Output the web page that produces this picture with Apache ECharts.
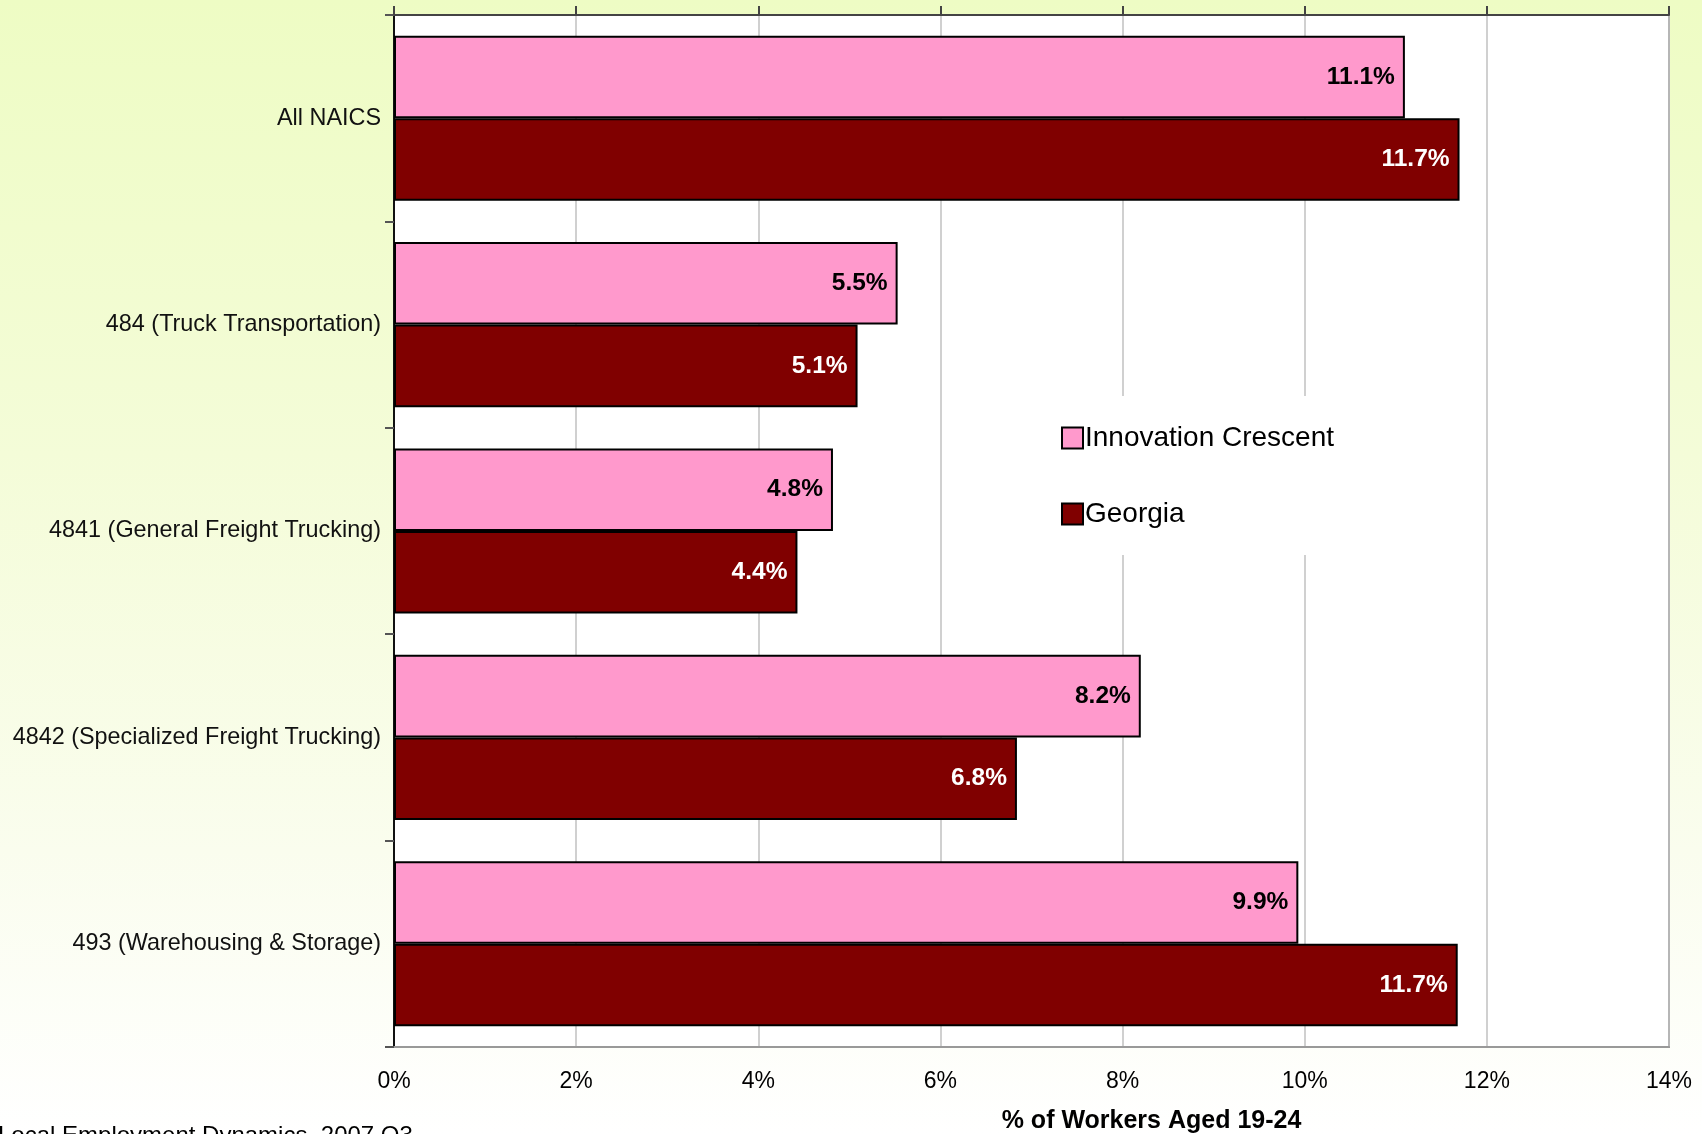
<!DOCTYPE html>
<html>
<head>
<meta charset="utf-8">
<script src="https://cdn.jsdelivr.net/npm/echarts@6/dist/echarts.min.js"></script>
<style>
  html, body { margin: 0; padding: 0; width: 1702px; height: 1134px; overflow: hidden;
    background: linear-gradient(to bottom, #eefcc4 0%, #f4fcd8 40%, #fafdee 75%, #ffffff 100%); }
  #chart { width: 1702px; height: 1134px; }
</style>
</head>
<body>
<div id="chart"></div>
<script>
const categories = ['All NAICS', '484 (Truck Transportation)', '4841 (General Freight Trucking)', '4842 (Specialized Freight Trucking)', '493 (Warehousing & Storage)'];
const innovationCrescent = [11.1, 5.53, 4.82, 8.2, 9.93];
const georgia = [11.7, 5.09, 4.43, 6.84, 11.68];
const seriesNames = ['Innovation Crescent', 'Georgia'];
const xTicks = { min: 0, max: 14, interval: 2 };
const axisTitle = '% of Workers Aged 19-24';
const sourceNote = 'Local Employment Dynamics, 2007 Q3';

const FONT = "'Liberation Sans', Arial, sans-serif";
const chart = echarts.init(document.getElementById('chart'), null, { renderer: 'canvas' });

const labelFmt = p => p.value.toFixed(1) + '%';

chart.setOption({
  backgroundColor: 'transparent',
  animation: false,
  textStyle: { fontFamily: FONT },
  grid: {
    left: 394, right: 33, top: 15, bottom: 87,
    containLabel: false, outerBoundsMode: 'none',
    show: true, backgroundColor: '#ffffff', borderColor: '#999999', borderWidth: 2
  },
  legend: {
    orient: 'vertical',
    left: 1053, top: 396,
    padding: [28, 12, 27, 8],
    backgroundColor: '#ffffff',
    itemWidth: 21, itemHeight: 21, itemGap: 48,
    icon: 'rect',
    itemStyle: { borderColor: '#000', borderWidth: 2 },
    textStyle: { fontSize: 28, color: '#000', fontFamily: FONT, lineHeight: 21, padding: [0, 0, 0, -3] },
    data: seriesNames
  },
  xAxis: [{
    type: 'value', position: 'bottom',
    min: xTicks.min, max: xTicks.max, interval: xTicks.interval,
    axisLine: { show: true, lineStyle: { color: '#999999', width: 2 } },
    axisTick: { show: false },
    axisLabel: { formatter: '{value}%', fontSize: 23, color: '#000', margin: 23, fontFamily: FONT },
    splitLine: { show: true, lineStyle: { color: '#c0c0c0', width: 1.5 } },
    name: axisTitle, nameLocation: 'middle', nameGap: 62,
    nameTextStyle: { fontSize: 25, fontWeight: 'bold', color: '#000', fontFamily: FONT, padding: [0, 0, 0, 240] }
  }, {
    type: 'value', position: 'top',
    min: xTicks.min, max: xTicks.max, interval: xTicks.interval,
    axisLine: { show: true, lineStyle: { color: '#444444', width: 2 } },
    axisTick: { show: true, inside: false, length: 9, lineStyle: { color: '#444444', width: 2 } },
    axisLabel: { show: false },
    splitLine: { show: false }
  }],
  yAxis: {
    type: 'category', inverse: true, data: categories,
    axisLine: { show: true, lineStyle: { color: '#111111', width: 2 } },
    axisTick: { show: true, length: 9, lineStyle: { color: '#555555', width: 2 } },
    axisLabel: { fontSize: 23.4, color: '#111', margin: 13, fontFamily: FONT },
    splitLine: { show: false }
  },
  series: [{
    name: seriesNames[0], type: 'bar', data: innovationCrescent,
    barCategoryGap: '20%', barGap: '0%',
    itemStyle: { color: '#ff99cc', borderColor: '#000', borderWidth: 2 },
    label: { show: true, position: 'insideRight', distance: 10, formatter: labelFmt,
      fontSize: 24.5, fontWeight: 'bold', color: '#000', fontFamily: FONT }
  }, {
    name: seriesNames[1], type: 'bar', data: georgia,
    barCategoryGap: '20%', barGap: '0%',
    itemStyle: { color: '#800000', borderColor: '#000', borderWidth: 2 },
    label: { show: true, position: 'insideRight', distance: 10, formatter: labelFmt,
      fontSize: 24.5, fontWeight: 'bold', color: '#fff', fontFamily: FONT }
  }],
  graphic: [{
    type: 'text', left: -2, top: 1124,
    style: { text: sourceNote, fontSize: 24, fill: '#000', fontFamily: FONT }
  }]
});
</script>
</body>
</html>
